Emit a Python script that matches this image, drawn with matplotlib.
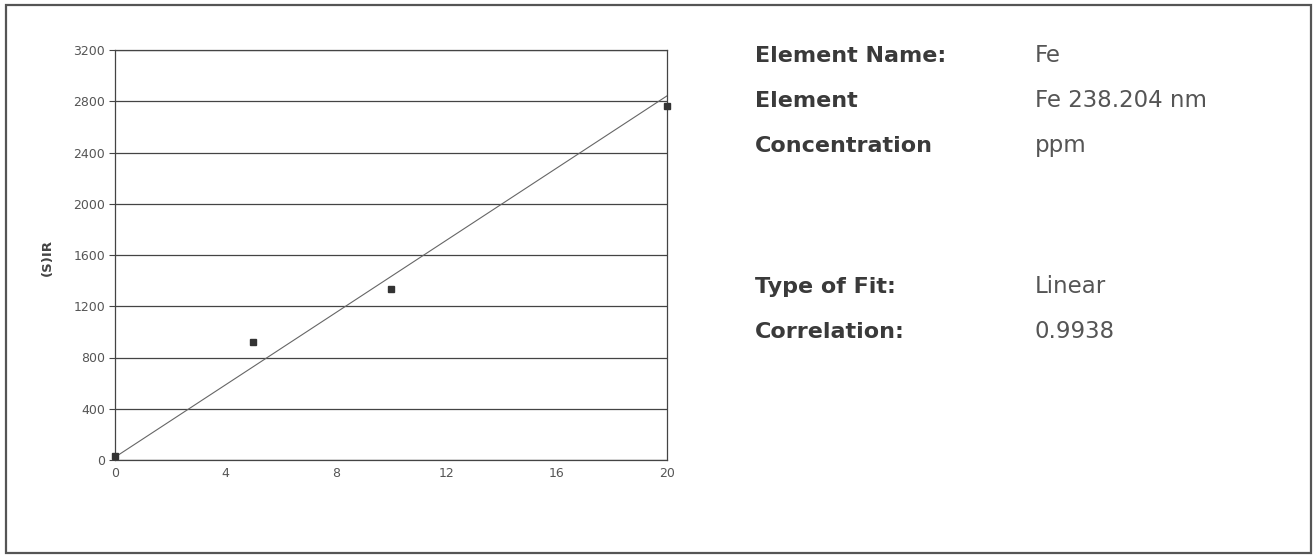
import matplotlib
matplotlib.use('agg')
import matplotlib.pyplot as plt
from matplotlib.patches import Rectangle

# calibration data
conc = [0, 5, 10, 20]
intensity = [30, 922, 1336, 2766]
fit_slope = 141.0
fit_intercept = 22.0
x_ticks = [0, 4, 8, 12, 16, 20]
y_ticks = [0, 400, 800, 1200, 1600, 2000, 2400, 2800, 3200]

info_labels = ['Element Name:', 'Element', 'Concentration', 'Type of Fit:', 'Correlation:']
info_values = ['Fe', 'Fe 238.204 nm', 'ppm', 'Linear', '0.9938']
info_rows_px = [62, 107, 152, 293, 338]

W, H = 1314, 557
fig = plt.figure(figsize=(W / 100, H / 100), dpi=100)
fig.patch.set_facecolor('white')

# outer frame
fig.patches.append(Rectangle((6 / W, 1 - 553 / H), (1311 - 6) / W, (553 - 5) / H,
                             transform=fig.transFigure, fill=False,
                             edgecolor='#555555', linewidth=1.6))

ax = fig.add_axes([115 / W, 1 - 460 / H, (667 - 115) / W, (460 - 50) / H])
ax.set_xlim(0, 20)
ax.set_ylim(0, 3200)
ax.set_xticks(x_ticks)
ax.set_yticks(y_ticks)
ax.tick_params(axis='x', length=0, pad=5, labelsize=9, labelcolor='#555555')
ax.tick_params(axis='y', length=4, width=0.8, color='#444444', pad=3,
               labelsize=9, labelcolor='#555555')
ax.grid(axis='y', color='#444444', linewidth=0.9)
ax.set_axisbelow(True)
for s in ax.spines.values():
    s.set_color('#444444')
    s.set_linewidth(0.9)

xs = [min(conc), max(conc)]
ax.plot(xs, [fit_intercept + fit_slope * x for x in xs], color='#666666',
        linewidth=0.8, clip_on=False)
ax.plot(conc, intensity, linestyle='none', marker='s', markersize=4.5,
        color='#333333', clip_on=False, zorder=5)

fig.text(47 / W, 1 - 257 / H, '(S)IR', rotation=90, ha='center', va='center',
         fontsize=9.5, fontweight='bold', color='#444444')

for lab, val, py in zip(info_labels, info_values, info_rows_px):
    fig.text(755 / W, 1 - py / H, lab, ha='left', va='baseline', fontsize=16,
             fontweight='bold', color='#3a3a3a')
    fig.text(1035 / W, 1 - py / H, val, ha='left', va='baseline', fontsize=16.5,
             color='#555555')

fig.savefig('out.png', dpi=100)
